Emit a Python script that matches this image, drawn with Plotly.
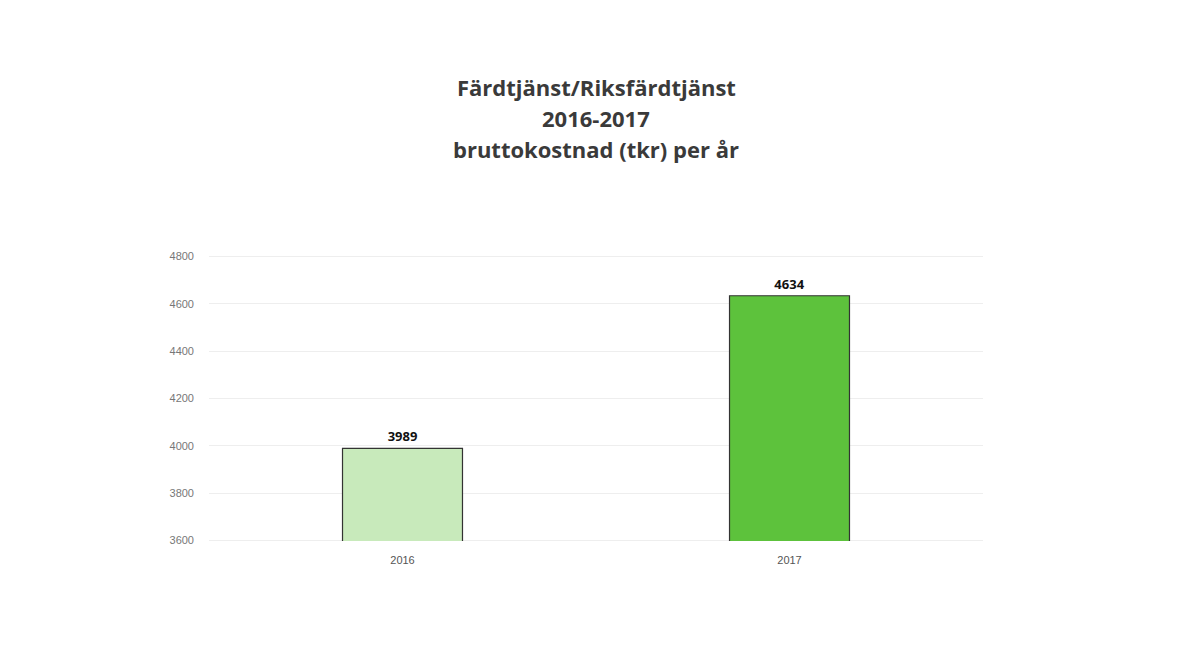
import plotly.graph_objects as go

years = ["2016", "2017"]
values = [3989, 4634]
bar_colors = ["#c8eabb", "#5dc23c"]
y_ticks = [3600, 3800, 4000, 4200, 4400, 4600, 4800]
title_lines = ["Färdtjänst/Riksfärdtjänst", "2016-2017", "bruttokostnad (tkr) per år"]

W, H = 1184, 650
ML, MR, MT, MB = 201, 209, 248, 117
plot_h = H - MT - MB

fig = go.Figure()
fig.add_trace(go.Bar(
    x=years, y=values,
    marker=dict(color=bar_colors, line=dict(color="#333333", width=1.2)),
    width=0.31,
    text=[str(v) for v in values],
    textposition="outside",
    textfont=dict(family="Open Sans", size=13, color="#111111"),
    texttemplate="<b>%{text}</b>",
    cliponaxis=False,
))

# edge gridlines (plotly hides gridlines at the plot edges)
for t in (y_ticks[0], y_ticks[-1]):
    fig.add_shape(type="line", xref="paper", yref="y", x0=0, x1=1, y0=t, y1=t,
                  line=dict(color="#eeeeee", width=1), layer="below")

centers = [79, 110, 141]
for line, c in zip(title_lines, centers):
    fig.add_annotation(
        text="<b>" + line + "</b>", xref="paper", yref="paper",
        x=0.5, y=(H - MB - c) / plot_h, xanchor="center", yanchor="middle",
        showarrow=False,
        font=dict(family="Open Sans", size=22, color="#3a3a3a"),
    )

fig.update_layout(
    width=W, height=H,
    paper_bgcolor="white", plot_bgcolor="white",
    margin=dict(l=ML, r=MR, t=MT, b=MB),
    showlegend=False,
    xaxis=dict(
        type="category", showgrid=False, showline=False, ticks="",
        ticklabelstandoff=11,
        tickfont=dict(family="Liberation Sans", size=11, color="#555555"),
    ),
    yaxis=dict(
        range=[3598, 4802], tickvals=y_ticks,
        showgrid=True, gridcolor="#eeeeee", gridwidth=1,
        zeroline=False, showline=False, ticks="",
        ticklabelstandoff=14,
        tickfont=dict(family="Liberation Sans", size=11, color="#777777"),
    ),
)

fig.write_html("out.html")
